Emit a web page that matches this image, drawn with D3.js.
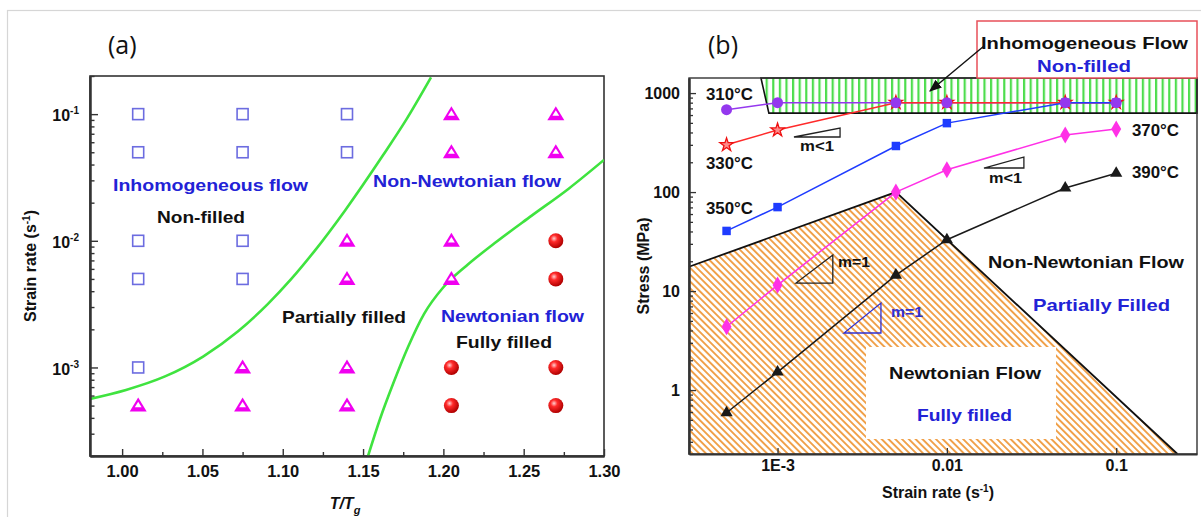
<!DOCTYPE html>
<html><head><meta charset="utf-8">
<script src="https://cdn.jsdelivr.net/npm/d3@7"></script>
<style>
body{margin:0;background:#fff}
svg{display:block}
text{font-family:"Liberation Sans",Arial,sans-serif;}
</style>
</head><body>
<svg id="c" width="1201" height="517"></svg>
<script>
// ---------------- DATA: panel (a) ----------------
const tTg = [1.01, 1.075, 1.14, 1.205, 1.27];
const rates = [0.1, 0.05, 0.01, 0.005, 0.001, 0.0005];
// S = non-filled (open square), T = partially filled (triangle), B = fully filled (ball)
const states = [
  ["S","S","S","S","S","T"],
  ["S","S","S","S","T","T"],
  ["S","S","T","T","T","T"],
  ["T","T","T","T","B","B"],
  ["T","T","B","B","B","B"]
];
const boundary1 = [[0.98,5.65e-4],[1.0024,6.65e-4],[1.0267,8.5e-4],[1.0504,1.22e-3],[1.0722,1.93e-3],
  [1.0908,3.18e-3],[1.1052,4.98e-3],[1.1195,8.22e-3],[1.1388,0.01738],[1.1624,0.0473],[1.1768,0.090],[1.1923,0.195]];
const boundary2 = [[1.1531,2.0e-4],[1.1605,3.9e-4],[1.1690,7.6e-4],[1.1780,1.45e-3],[1.1880,2.65e-3],
  [1.2000,4.3e-3],[1.2140,6.3e-3],[1.2320,9.6e-3],[1.2550,0.0158],[1.2780,0.0258],[1.30,0.0435]];
const xTicksA = [1.00,1.05,1.10,1.15,1.20,1.25,1.30];
const yTicksA = [1e-3,1e-2,1e-1];
const yTickExpA = ["-3","-2","-1"];

// ---------------- DATA: panel (b) ----------------
const strainRates = [5e-4, 1e-3, 5e-3, 1e-2, 5e-2, 1e-1];
const stress310 = [680, 800, 800, 800, 800, 800];
const stress330 = [300, 423, 800, 800, 800, 800];
const stress350 = [40.5, 70.5, 292, 497, 800, 800];
const stress370 = [4.36, 11.5, 100, 168, 377, 433];
const stress390 = [0.59, 1.52, 14.5, 33, 110, 155];
const seriesNames = ["310°C","330°C","350°C","370°C","390°C"];
const newtonianRegion = [[3e-4,17.6],[5e-3,100],[0.23,0.226],[3e-4,0.226]];
const inhomRegion = [[7.98e-4,1420],[0.3,1420],[0.3,628],[8.89e-4,628]];
const slopeBlack = [[1.285e-3,12.05],[2.12e-3,12.05],[2.12e-3,23.1]];
const slopeBlue = [[2.47e-3,3.77],[4.08e-3,3.77],[4.08e-3,7.57]];
const slopeLess1 = [[1.25e-3,360],[2.34e-3,360],[2.34e-3,443]];
const slopeLess2 = [[0.01656,175],[0.0285,175],[0.0285,226]];
const xTicksB = [1e-3,1e-2,1e-1];
const xTickLabB = ["1E-3","0.01","0.1"];
const yTicksB = [1,10,100,1000];

// ---------------- SETUP ----------------
const svg = d3.select("#c");
svg.append("rect").attr("width",1201).attr("height",517).attr("fill","#fff");
svg.append("rect").attr("x",7.5).attr("y",10.5).attr("width",1200).attr("height",520)
  .attr("fill","none").attr("stroke","#d6d6d6").attr("stroke-width",1.2);

const defs = svg.append("defs");
const grad = defs.append("radialGradient").attr("id","ball").attr("cx","38%").attr("cy","35%").attr("r","65%");
grad.append("stop").attr("offset","0%").attr("stop-color","#ffd0d0");
grad.append("stop").attr("offset","35%").attr("stop-color","#ff2a2a");
grad.append("stop").attr("offset","100%").attr("stop-color","#b00000");
const pg = defs.append("pattern").attr("id","green").attr("patternUnits","userSpaceOnUse")
  .attr("width",6.6).attr("height",10);
pg.append("rect").attr("width",6.6).attr("height",10).attr("fill","#fff");
pg.append("rect").attr("x",0).attr("width",2.2).attr("height",10).attr("fill","#4ddd4d");
const po = defs.append("pattern").attr("id","orange").attr("patternUnits","userSpaceOnUse")
  .attr("width",4.8).attr("height",10).attr("patternTransform","rotate(-45)");
po.append("rect").attr("width",4.8).attr("height",10).attr("fill","#fff");
po.append("rect").attr("x",0).attr("width",1.9).attr("height",10).attr("fill","#f0a048");
defs.append("marker").attr("id","arr").attr("viewBox","0 0 10 10").attr("refX",9).attr("refY",5)
  .attr("markerWidth",9).attr("markerHeight",9).attr("orient","auto-start-reverse")
  .append("path").attr("d","M0,1L10,5L0,9Z").attr("fill","#111");

function label(g, x, y, txt, o = {}) {
  const t = g.append("text").attr("x", x).attr("y", y).attr("dy", "0.35em")
    .attr("text-anchor", o.anchor || "start").attr("font-size", o.size || 16)
    .attr("font-weight", o.weight || "bold").attr("fill", o.color || "#111")
    .attr("font-style", o.style || "normal").text(txt);
  if (o.len) t.attr("textLength", o.len).attr("lengthAdjust", "spacingAndGlyphs");
  if (o.family) t.style("font-family", o.family);
  return t;
}
const BLUE = "#2222d6";
const FONT = "Liberation Sans, Arial, sans-serif";

// ================= PANEL (a) =================
const A = {l:90, r:604, t:76, b:456};
const xA = d3.scaleLinear().domain([0.98,1.30]).range([A.l,A.r]);
const yA = d3.scaleLog().domain([2e-4,0.2]).range([A.b,A.t]);
const gA = svg.append("g");

gA.append("rect").attr("x",A.l).attr("y",A.t).attr("width",A.r-A.l).attr("height",A.b-A.t)
  .attr("fill","none").attr("stroke","#333").attr("stroke-width",1.6);

// boundaries
const lineA = d3.line().x(d=>xA(d[0])).y(d=>yA(d[1])).curve(d3.curveMonotoneX);
gA.append("defs").append("clipPath").attr("id","clipA").append("rect")
  .attr("x",A.l).attr("y",A.t).attr("width",A.r-A.l).attr("height",A.b-A.t);
[boundary1,boundary2].forEach(b=>{
  gA.append("path").attr("d",lineA(b)).attr("fill","none").attr("stroke","#3fe33f")
    .attr("stroke-width",2.6).attr("clip-path","url(#clipA)");
});

// markers
tTg.forEach((tx,i)=>{
  rates.forEach((r,j)=>{
    const s = states[i][j], cx = xA(tx), cy = yA(r);
    const g = gA.append("g").attr("transform",`translate(${cx},${cy})`);
    if (s==="S") {
      g.append("rect").attr("x",-5.5).attr("y",-5.5).attr("width",11).attr("height",11)
        .attr("fill","none").attr("stroke","#6c6ce0").attr("stroke-width",1.6);
    } else if (s==="T") {
      g.append("path").attr("d","M0,-8L8.5,6L-8.5,6Z").attr("fill","#f000f0");
      g.append("path").attr("d","M0,-3.8L3.4,1.6L-3.4,1.6Z").attr("fill","#fff");
    } else {
      g.append("circle").attr("r",7.5).attr("fill","url(#ball)");
    }
  });
});

// axes
const axYA = gA.append("g").attr("transform",`translate(${A.l},0)`);
const minorsA = [];
[1e-4,1e-3,1e-2,1e-1].forEach(d=>{for(let k=2;k<=9;k++){const v=d*k; if(v>=2e-4&&v<=0.2+1e-9) minorsA.push(v);}});
axYA.call(d3.axisLeft(yA).tickValues(minorsA).tickSize(-4.5).tickSizeOuter(0).tickFormat(""));
axYA.append("g").call(d3.axisLeft(yA).tickValues(yTicksA).tickSize(-8).tickSizeOuter(0).tickFormat(""))
  .call(g=>g.selectAll(".tick").each(function(d,i){
    const t = d3.select(this).append("text").attr("x",-11).attr("y",1).attr("dy","0.35em")
      .attr("text-anchor","end").attr("fill","#111").attr("font-size",16).attr("font-weight","bold")
      .style("font-family",FONT);
    t.append("tspan").text("10");
    t.append("tspan").attr("dy",-7).attr("font-size",10).text(yTickExpA[i]);
  }));
axYA.selectAll("path.domain").attr("stroke","#333").attr("stroke-width",2);
axYA.selectAll("line").attr("stroke","#333").attr("stroke-width",1.4);

const axXA = gA.append("g").attr("transform",`translate(0,${A.b})`);
const minorXA = [1.025,1.075,1.125,1.175,1.225,1.275];
axXA.call(d3.axisBottom(xA).tickValues(minorXA).tickSize(-4).tickSizeOuter(0).tickFormat(""));
axXA.append("g").call(d3.axisBottom(xA).tickValues(xTicksA).tickSize(-7).tickSizeOuter(0).tickFormat(d3.format(".2f")))
  .call(g=>g.selectAll("text").attr("y",15).attr("dy","0.35em").attr("font-size",16.5).attr("font-weight","bold")
    .attr("fill","#111").style("font-family",FONT));
axXA.selectAll("path.domain").attr("stroke","#333").attr("stroke-width",2);
axXA.selectAll("line").attr("stroke","#333").attr("stroke-width",1.4);

// texts (a)
label(gA,108,45,"(a)",{size:25,weight:"normal",family:"Open Sans, DejaVu Sans, sans-serif"});
label(gA,113,185,"Inhomogeneous flow",{size:17,color:BLUE,len:195});
label(gA,157,217,"Non-filled",{size:17,len:88});
label(gA,373,181,"Non-Newtonian flow",{size:17,color:BLUE,len:188});
label(gA,282,317,"Partially filled",{size:17,len:124});
label(gA,441,316,"Newtonian flow",{size:17,color:BLUE,len:143});
label(gA,456,342,"Fully filled",{size:17,len:96});
const ylA = gA.append("text").attr("transform","translate(30,266) rotate(-90)").attr("text-anchor","middle")
  .attr("dy","0.35em").attr("font-size",16).attr("font-weight","bold").attr("fill","#111");
ylA.append("tspan").text("Strain rate (s");
ylA.append("tspan").attr("dy",-6).attr("font-size",10).text("-1");
ylA.append("tspan").attr("dy",6).text(")");
const xlA = gA.append("text").attr("x",345).attr("y",503).attr("text-anchor","middle")
  .attr("dy","0.35em").attr("font-size",16).attr("font-weight","bold").attr("font-style","italic").attr("fill","#111");
xlA.append("tspan").text("T/T");
xlA.append("tspan").attr("dy",5).attr("font-size",11).text("g");

// ================= PANEL (b) =================
const B = {l:689, r:1197, t:78, b:454};
const xB = d3.scaleLog().domain([3e-4,0.3]).range([B.l,B.r]);
const yB = d3.scaleLog().domain([0.226,1420]).range([B.b,B.t]);
const gB = svg.append("g");
const polyB = d3.line().x(d=>xB(d[0])).y(d=>yB(d[1]));

// regions
gB.append("path").attr("d",polyB(newtonianRegion)+"Z").attr("fill","url(#orange)");
gB.append("path").attr("d",polyB(newtonianRegion.slice(0,3))).attr("fill","none").attr("stroke","#111").attr("stroke-width",1.8);
gB.append("rect").attr("x",866).attr("y",347).attr("width",190).attr("height",92).attr("fill","#fff");
gB.append("path").attr("d",polyB(inhomRegion)+"Z").attr("fill","url(#green)").attr("stroke","#111").attr("stroke-width",1.6);

// frame
gB.append("rect").attr("x",B.l).attr("y",B.t).attr("width",B.r-B.l).attr("height",B.b-B.t)
  .attr("fill","none").attr("stroke","#333").attr("stroke-width",1.4);

// slope triangles
[[slopeBlack,"#222"],[slopeBlue,"#3030d0"],[slopeLess1,"#222"],[slopeLess2,"#222"]].forEach(([p,c])=>{
  gB.append("path").attr("d",polyB(p)+"Z").attr("fill","none").attr("stroke",c).attr("stroke-width",1.3);
});
label(gB,838,262,"m=1",{size:14,len:32});
label(gB,891,312,"m=1",{size:14,color:"#3030d0",len:32});
label(gB,800,146,"m<1",{size:14,len:34});
label(gB,989,178,"m<1",{size:14,len:33});

// series
const series = [
  {v:stress310,c:"#9438ee",m:"c"},
  {v:stress330,c:"#ff2a2a",m:"s"},
  {v:stress350,c:"#1f3cff",m:"q"},
  {v:stress370,c:"#ff30e6",m:"d"},
  {v:stress390,c:"#1a1a1a",m:"t"}
];
const lineB = d3.line().x((d,i)=>xB(strainRates[i])).y(d=>yB(d));
series.forEach(s=>{
  gB.append("path").attr("d",lineB(s.v)).attr("fill","none").attr("stroke",s.c).attr("stroke-width",1.5);
});
function drawMarkers(s){
  s.v.forEach((v,i)=>{
    const g = gB.append("g").attr("transform",`translate(${xB(strainRates[i])},${yB(v)})`);
    if (s.m==="c") g.append("circle").attr("r",5.5).attr("fill",s.c);
    else if (s.m==="s") g.append("path").attr("d",d3.symbol(d3.symbolStar,55)()).attr("fill","#ff8a8a").attr("stroke","#ee1010").attr("stroke-width",1.3);
    else if (s.m==="q") g.append("path").attr("d",d3.symbol(d3.symbolSquare,72)()).attr("fill",s.c);
    else if (s.m==="d") g.append("path").attr("d",d3.symbol(d3.symbolDiamond,85)()).attr("fill",s.c);
    else g.append("path").attr("d",d3.symbol(d3.symbolTriangle,65)()).attr("fill",s.c);
  });
}
[1,2,0,3,4].forEach(k=>drawMarkers(series[k]));

// axes (b)
const axYB = gB.append("g").attr("transform",`translate(${B.l},0)`);
const minorsB = [];
[0.1,1,10,100,1000].forEach(d=>{for(let k=2;k<=9;k++){const v=d*k; if(v>=0.226&&v<=1420) minorsB.push(v);}});
axYB.call(d3.axisLeft(yB).tickValues(minorsB).tickSize(-4).tickSizeOuter(0).tickFormat(""));
axYB.append("g").call(d3.axisLeft(yB).tickValues(yTicksB).tickSize(-7).tickSizeOuter(0).tickFormat(d3.format("d")))
  .call(g=>g.selectAll("text").attr("x",-9).attr("font-size",16).attr("font-weight","bold").attr("fill","#111")
    .style("font-family",FONT));
axYB.selectAll("path.domain").attr("stroke","#333").attr("stroke-width",2);
axYB.selectAll("line").attr("stroke","#333").attr("stroke-width",1.3);

const axXB = gB.append("g").attr("transform",`translate(0,${B.b})`);
axXB.call(d3.axisBottom(xB).tickValues(xTicksB).tickSize(-6).tickSizeOuter(0).tickFormat((d,i)=>xTickLabB[i]))
  .call(g=>g.selectAll("text").attr("y",11).attr("dy","0.35em").attr("font-size",16).attr("font-weight","bold")
    .attr("fill","#111").style("font-family",FONT));
axXB.selectAll("path.domain").attr("stroke","#333").attr("stroke-width",2);
axXB.selectAll("line").attr("stroke","#333").attr("stroke-width",1.3);

// labels (b)
label(gB,708,45,"(b)",{size:25,weight:"normal",family:"Open Sans, DejaVu Sans, sans-serif"});
const sLab = [[706,94],[706,163],[706,208],[1132,130],[1132,172]];
seriesNames.forEach((n,i)=>label(gB,sLab[i][0],sLab[i][1],n,{size:16,len:47}));
label(gB,988,262,"Non-Newtonian Flow",{size:17,len:196});
label(gB,1033,305,"Partially Filled",{size:17,color:BLUE,len:137});
label(gB,889,373,"Newtonian Flow",{size:17,len:152});
label(gB,917,415,"Fully filled",{size:17,color:BLUE,len:95});

// annotation box
gB.append("rect").attr("x",977).attr("y",21).attr("width",220).attr("height",57)
  .attr("fill","#fff").attr("stroke","#e8505a").attr("stroke-width",1.5);
label(gB,981,43,"Inhomogeneous Flow",{size:17,len:207});
label(gB,1084,66,"Non-filled",{size:17,color:BLUE,len:94,anchor:"middle"});
gB.append("line").attr("x1",984).attr("y1",46).attr("x2",930).attr("y2",91)
  .attr("stroke","#111").attr("stroke-width",1.4).attr("marker-end","url(#arr)");

gB.append("text").attr("transform","translate(643,266) rotate(-90)").attr("text-anchor","middle")
  .attr("dy","0.35em").attr("font-size",16).attr("font-weight","bold").attr("fill","#111").text("Stress (MPa)");
const xlB = gB.append("text").attr("x",938).attr("y",492).attr("text-anchor","middle")
  .attr("dy","0.35em").attr("font-size",16).attr("font-weight","bold").attr("fill","#111");
xlB.append("tspan").text("Strain rate (s");
xlB.append("tspan").attr("dy",-6).attr("font-size",10).text("-1");
xlB.append("tspan").attr("dy",6).text(")");
</script>
</body></html>
